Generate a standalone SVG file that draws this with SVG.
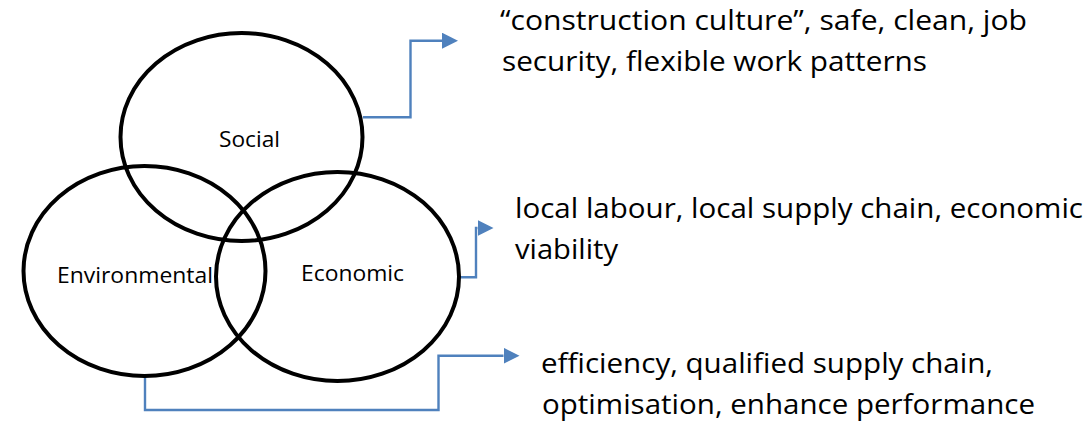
<svg xmlns="http://www.w3.org/2000/svg" width="1091" height="425" viewBox="0 0 1091 425">
  <style>
    .ring { fill: none; stroke: #000; stroke-width: 4; }
    .lbl { font-family: "Open Sans", "Noto Sans", sans-serif; font-size: 21px; fill: #000; }
    .note { font-family: "Open Sans", "Noto Sans", sans-serif; font-size: 27.5px; fill: #000; }
    .link { fill: none; stroke: #4f81bd; stroke-width: 2.4; marker-end: url(#arrow); }
  </style>
  <defs>
    <marker id="arrow" markerUnits="userSpaceOnUse" markerWidth="16" markerHeight="16" refX="0" refY="7.5" orient="auto" viewBox="0 0 15 15">
      <path d="M0,0 L15,7.5 L0,15 Z" fill="#4f81bd"/>
    </marker>
  </defs>
  <rect width="1091" height="425" fill="#fff"/>

  <!-- connectors from each circle to its description -->
  <g id="connectors">
    <path class="link" d="M363,117.3 H410.5 V40.7 H442"/>
    <path class="link" d="M459,277.3 H476 V228 H477.5"/>
    <path class="link" d="M145,376.5 V410 H438.5 V355.7 H503.5"/>
  </g>

  <g id="social">
    <ellipse class="ring" cx="241.5" cy="137" rx="121" ry="104"/>
    <text class="lbl" x="219" y="147" textLength="61" lengthAdjust="spacingAndGlyphs">Social</text>
  </g>
  <g id="environmental">
    <ellipse class="ring" cx="144.5" cy="271" rx="121" ry="105"/>
    <text class="lbl" x="57" y="283" textLength="156" lengthAdjust="spacingAndGlyphs">Environmental</text>
  </g>
  <g id="economic">
    <ellipse class="ring" cx="337.5" cy="276.5" rx="121.5" ry="104.5"/>
    <text class="lbl" x="301" y="281" textLength="103" lengthAdjust="spacingAndGlyphs">Economic</text>
  </g>

  <g id="social-note">
    <text class="note" x="500" y="30" textLength="527" lengthAdjust="spacingAndGlyphs">“construction culture”, safe, clean, job</text>
    <text class="note" x="502" y="71" textLength="425" lengthAdjust="spacingAndGlyphs">security, flexible work patterns</text>
  </g>
  <g id="economic-note">
    <text class="note" x="515" y="218" textLength="568" lengthAdjust="spacingAndGlyphs">local labour, local supply chain, economic</text>
    <text class="note" x="515" y="259" textLength="103" lengthAdjust="spacingAndGlyphs">viability</text>
  </g>
  <g id="environmental-note">
    <text class="note" x="541" y="373" textLength="452" lengthAdjust="spacingAndGlyphs">efficiency, qualified supply chain,</text>
    <text class="note" x="542" y="414" textLength="493" lengthAdjust="spacingAndGlyphs">optimisation, enhance performance</text>
  </g>
</svg>
